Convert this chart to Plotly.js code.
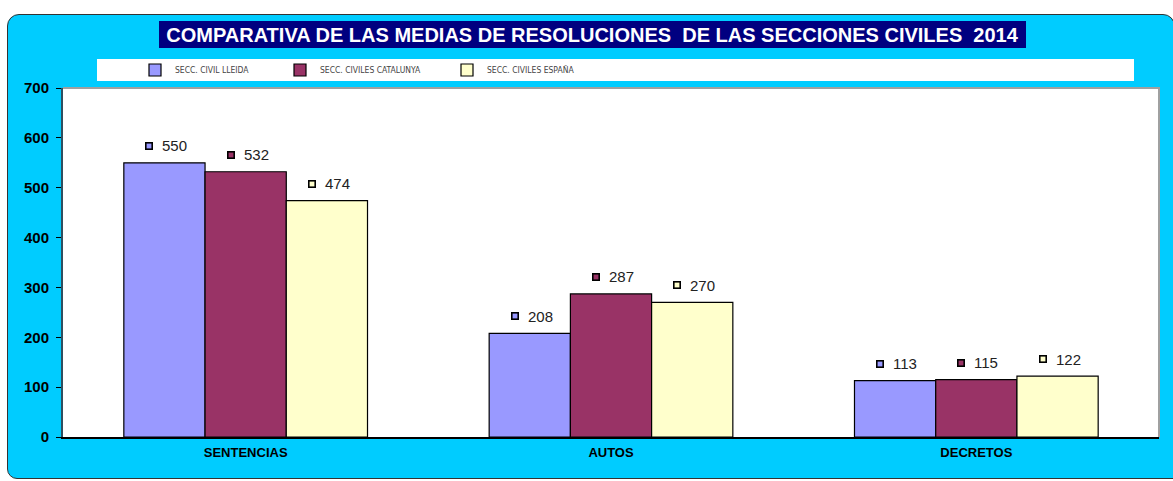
<!DOCTYPE html>
<html>
<head>
<meta charset="utf-8">
<script src="https://cdn.plot.ly/plotly-3.0.1.min.js"></script>
<style>
  html, body { margin: 0; padding: 0; background: #ffffff; width: 1173px; height: 481px; overflow: hidden; }
  #panel { position: absolute; left: 7px; top: 14px; width: 1168px; height: 465px;
           background: #00CCFF; border: 1px solid #333; border-radius: 12px 12px 0 10px; box-sizing: border-box; }
  #chart { position: absolute; left: 0; top: 0; width: 1173px; height: 481px; }
</style>
</head>
<body>
<div id="panel"></div>
<div id="chart"></div>
<script>
const categories = ["SENTENCIAS", "AUTOS", "DECRETOS"];
const seriesNames = ["SECC. CIVIL LLEIDA", "SECC. CIVILES CATALUNYA", "SECC. CIVILES ESPAÑA"];
const lleida = [550, 208, 113];
const catalunya = [532, 287, 115];
const espana = [474, 270, 122];
const seriesValues = [lleida, catalunya, espana];
const colors = ["#9999FF", "#993366", "#FFFFCC"];
const titleText = "COMPARATIVA DE LAS MEDIAS DE RESOLUCIONES  DE LAS SECCIONES CIVILES  2014";

const W = 1173, H = 481;
const M = {l: 63, r: 14, t: 88, b: 44};
const bargap = 0.333;
const plotW = W - M.l - M.r;
const plotH = H - M.t - M.b;
const catW = plotW / categories.length;
const bw = catW * (1 - bargap) / seriesValues.length;
const px2x = p => (p - M.l) / plotW;
const py2y = p => (H - M.b - p) / plotH;

const legendNames = ["legend", "legend2", "legend3"];
const legendTextX = [175, 320, 487];

const traces = seriesValues.map((vals, k) => ({
  type: "bar",
  name: seriesNames[k],
  x: categories,
  y: vals,
  marker: {color: colors[k], line: {color: "#000000", width: 1.2}},
  legend: legendNames[k],
  showlegend: true,
  hoverinfo: "x+y+name"
}));

const annotations = [];
// title
annotations.push({
  xref: "paper", yref: "paper", x: px2x(592.5), y: py2y(34.5),
  xanchor: "center", yanchor: "middle", showarrow: false,
  text: "<b>" + titleText + "</b>",
  font: {family: "Liberation Sans, Arial, sans-serif", size: 20, color: "#ffffff"},
  bgcolor: "#000080", width: 863, height: 23, borderpad: 2, borderwidth: 0
});
// data labels
seriesValues.forEach((vals, k) => {
  const off = (k - (seriesValues.length - 1) / 2) * bw;
  vals.forEach((v, i) => {
    annotations.push({
      x: categories[i], y: v, xref: "x", yref: "y",
      xanchor: "center", yanchor: "middle", showarrow: false,
      xshift: off - 15, yshift: 17, text: " ",
      width: 5, height: 5, borderpad: 0, borderwidth: 1.6,
      bordercolor: "#000000", bgcolor: colors[k], font: {size: 4}
    });
    annotations.push({
      x: categories[i], y: v, xref: "x", yref: "y",
      xanchor: "left", yanchor: "middle", showarrow: false,
      xshift: off - 4, yshift: 17, text: String(v),
      font: {family: "Liberation Sans, Arial, sans-serif", size: 15, color: "#222222"}
    });
  });
});

const shapes = [
  // legend white box
  {type: "rect", xref: "paper", yref: "paper", x0: px2x(97), x1: px2x(1134), y0: py2y(81), y1: py2y(59),
   fillcolor: "#ffffff", line: {width: 0}, layer: "below"},
  // gray top/right plot border
  {type: "path", xref: "paper", yref: "paper", path: "M 0,1 L 1,1 L 1,0",
   line: {color: "#A0A0A0", width: 2}, layer: "above"}
];

const layout = {
  width: W, height: H,
  margin: M,
  showlegend: true,
  paper_bgcolor: "rgba(0,0,0,0)",
  plot_bgcolor: "#ffffff",
  barmode: "group",
  bargap: bargap,
  bargroupgap: 0,
  font: {family: "Liberation Sans, Arial, sans-serif", color: "#000000"},
  xaxis: {
    type: "category",
    showgrid: false, showline: true, linecolor: "#000000", linewidth: 2,
    ticks: "", tickfont: {size: 13, color: "#000000", weight: "bold"},
    ticklabelstandoff: 2, fixedrange: true
  },
  yaxis: {
    range: [0, 700], dtick: 100, tick0: 0,
    showgrid: false, showline: true, linecolor: "#2F4F5F", linewidth: 2,
    ticks: "outside", ticklen: 5, tickcolor: "#000000", tickwidth: 1,
    tickfont: {size: 15, color: "#000000", weight: "bold"},
    ticklabelstandoff: 4, zeroline: false, fixedrange: true
  },
  annotations: annotations,
  shapes: shapes
};
legendNames.forEach((ln, k) => {
  layout[ln] = {
    orientation: "h", x: px2x(legendTextX[k] - 40), y: py2y(70),
    xanchor: "left", yanchor: "middle", bgcolor: "rgba(0,0,0,0)",
    font: {family: "Liberation Sans Narrow, Arial Narrow, DejaVu Sans Condensed, sans-serif", size: 8.5, color: "#444444"},
    itemclick: false, itemdoubleclick: false
  };
});

Plotly.newPlot("chart", traces, layout, {displayModeBar: false, staticPlot: true});
</script>
</body>
</html>
